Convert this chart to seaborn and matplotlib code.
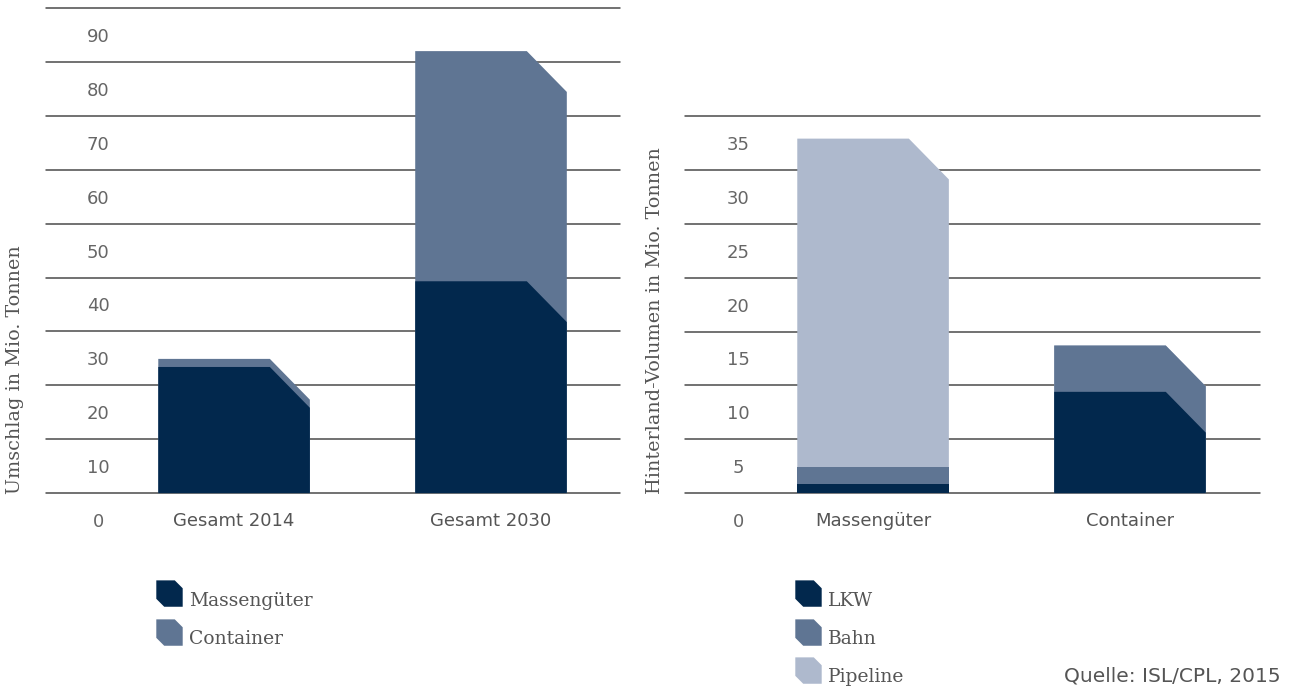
import numpy as np
import pandas as pd
import matplotlib
matplotlib.use('Agg')
import matplotlib.pyplot as plt
import seaborn as sns
from matplotlib.patches import Rectangle, Polygon
from matplotlib.path import Path
from matplotlib.lines import Line2D

# Umschlag (Mio. t)
left_cats = ['Gesamt 2014', 'Gesamt 2030']
left_massen = [23.4, 39.3]
left_container = [1.5, 42.7]
left_series = ['Massengüter', 'Container']

# Hinterland-Volumen (Mio. t)
right_cats = ['Massengüter', 'Container']
right_lkw = [0.85, 9.4]
right_bahn = [1.55, 4.3]
right_pipeline = [30.5, 0.0]
right_series = ['LKW', 'Bahn', 'Pipeline']

left_ticks = [0, 10, 20, 30, 40, 50, 60, 70, 80, 90]
right_ticks = [0, 5, 10, 15, 20, 25, 30, 35]

dark = '#02284d'
mid = '#5f7593'
light = '#aeb9cd'
grid_col = '#4a4a4a'
text_col = '#555555'

sns.set_style('white')
serif = ['DejaVu Serif']
sans = ['DejaVu Sans']
PT = 100 / 72  # px per point

fig = plt.figure(figsize=(12.92, 6.9), dpi=100)
W, H = 1292, 690


def px_axes(x0, x1, y_top, y_bot):
    return fig.add_axes([x0 / W, 1 - y_bot / H, (x1 - x0) / W, (y_bot - y_top) / H])


ax1 = px_axes(46, 620, 8, 547)
ax2 = px_axes(685, 1260, 116, 547)


def stacked(ax, cats, layers, colors):
    # draw cumulative totals first, smaller stacks on top
    cum = np.cumsum(np.array(layers), axis=0)
    for vals, col in zip(cum[::-1], colors[::-1]):
        df = pd.DataFrame({'cat': cats, 'val': vals})
        sns.barplot(data=df, x='cat', y='val', color=col, width=0.59,
                    saturation=1, ax=ax, order=cats)


def chamfer(ax, size_px=40):
    fig.canvas.draw()
    inv = ax.transData.inverted()
    p0 = inv.transform((0, 0))
    p1 = inv.transform((size_px, size_px * 1.02))
    cx, cy = p1[0] - p0[0], p1[1] - p0[1]
    rects = [p for p in ax.patches if isinstance(p, Rectangle)]
    for r in rects:
        x0, w, h = r.get_x(), r.get_width(), r.get_height()
        x1 = x0 + w
        if h <= 0:
            r.remove()
            continue
        if h > cy:
            pts = [(x0, 0), (x1, 0), (x1, h - cy), (x1 - cx, h), (x0, h)]
        else:
            pts = [(x0, 0), (x1, 0), (x1, h), (x0, h)]
        poly = Polygon(pts, closed=True, facecolor=r.get_facecolor(),
                       edgecolor='none', zorder=3)
        r.remove()
        ax.add_patch(poly)


def style(ax, ticks, step, xlim, ylim, label_px):
    ax.set_xlim(*xlim)
    ax.set_ylim(*ylim)
    for t in ticks:
        ax.axhline(t, color=grid_col, lw=1.1, zorder=1, clip_on=False)
    for s in ax.spines.values():
        s.set_visible(False)
    ax.set_yticks([t - step / 2 for t in ticks])
    ax.set_yticklabels([str(t) for t in ticks], family=sans, fontsize=13,
                       color='#666666', ha='center')
    ax.tick_params(axis='y', length=0, pad=-label_px / PT)
    ax.tick_params(axis='x', length=0, pad=-25, labelsize=13, labelcolor=text_col)
    for lab in ax.get_xticklabels():
        lab.set_family(sans)
    ax.set_xlabel('')
    ax.set_ylabel('')


stacked(ax1, left_cats, [left_massen, left_container], [dark, mid])
style(ax1, left_ticks, 10, (-0.732, 1.502), (-10, 90), 52)
stacked(ax2, right_cats, [right_lkw, right_bahn, right_pipeline], [dark, mid, light])
style(ax2, right_ticks, 5, (-0.732, 1.506), (-5, 35), 53)
chamfer(ax1)
chamfer(ax2)

fig.text(15 / W, 1 - 494 / H, 'Umschlag in Mio. Tonnen', rotation=90,
         ha='center', va='bottom', family=serif, fontsize=13.8, color=text_col)
fig.text(655 / W, 1 - 494 / H, 'Hinterland-Volumen in Mio. Tonnen', rotation=90,
         ha='center', va='bottom', family=serif, fontsize=13.8, color=text_col)

# legend marker: square with chamfered top-right and bottom-left corners,
# lifted a little so it sits above the text centre
c = 0.6
lift = 0.45
marker = Path([(-1, 1 + lift), (1 - c, 1 + lift), (1, 1 - c + lift), (1, -1 + lift),
               (-1 + c, -1 + lift), (-1, -1 + c + lift), (-1, 1 + lift)],
              [Path.MOVETO] + [Path.LINETO] * 5 + [Path.CLOSEPOLY])


def legend(ax, labels, colors, x, y):
    handles = [Line2D([], [], ls='none', marker=marker, markersize=19 * (1 + lift),
                      markerfacecolor=col, markeredgecolor='none') for col in colors]
    lg = ax.legend(handles, labels, loc='upper left', bbox_to_anchor=(x / W, 1 - y / H),
                   bbox_transform=fig.transFigure, frameon=False, borderpad=0,
                   borderaxespad=0, handlelength=1.3, handletextpad=0.4,
                   labelspacing=1.07, prop={'family': serif, 'size': 13.5})
    for t in lg.get_texts():
        t.set_color(text_col)


legend(ax1, left_series, [dark, mid], 157, 592)
legend(ax2, right_series, [dark, mid, light], 796, 592)

fig.text(1281 / W, 1 - 676 / H, 'Quelle: ISL/CPL, 2015', ha='right', va='center',
         family=sans, fontsize=14.5, color=text_col)

fig.savefig('out.png', dpi=100)
